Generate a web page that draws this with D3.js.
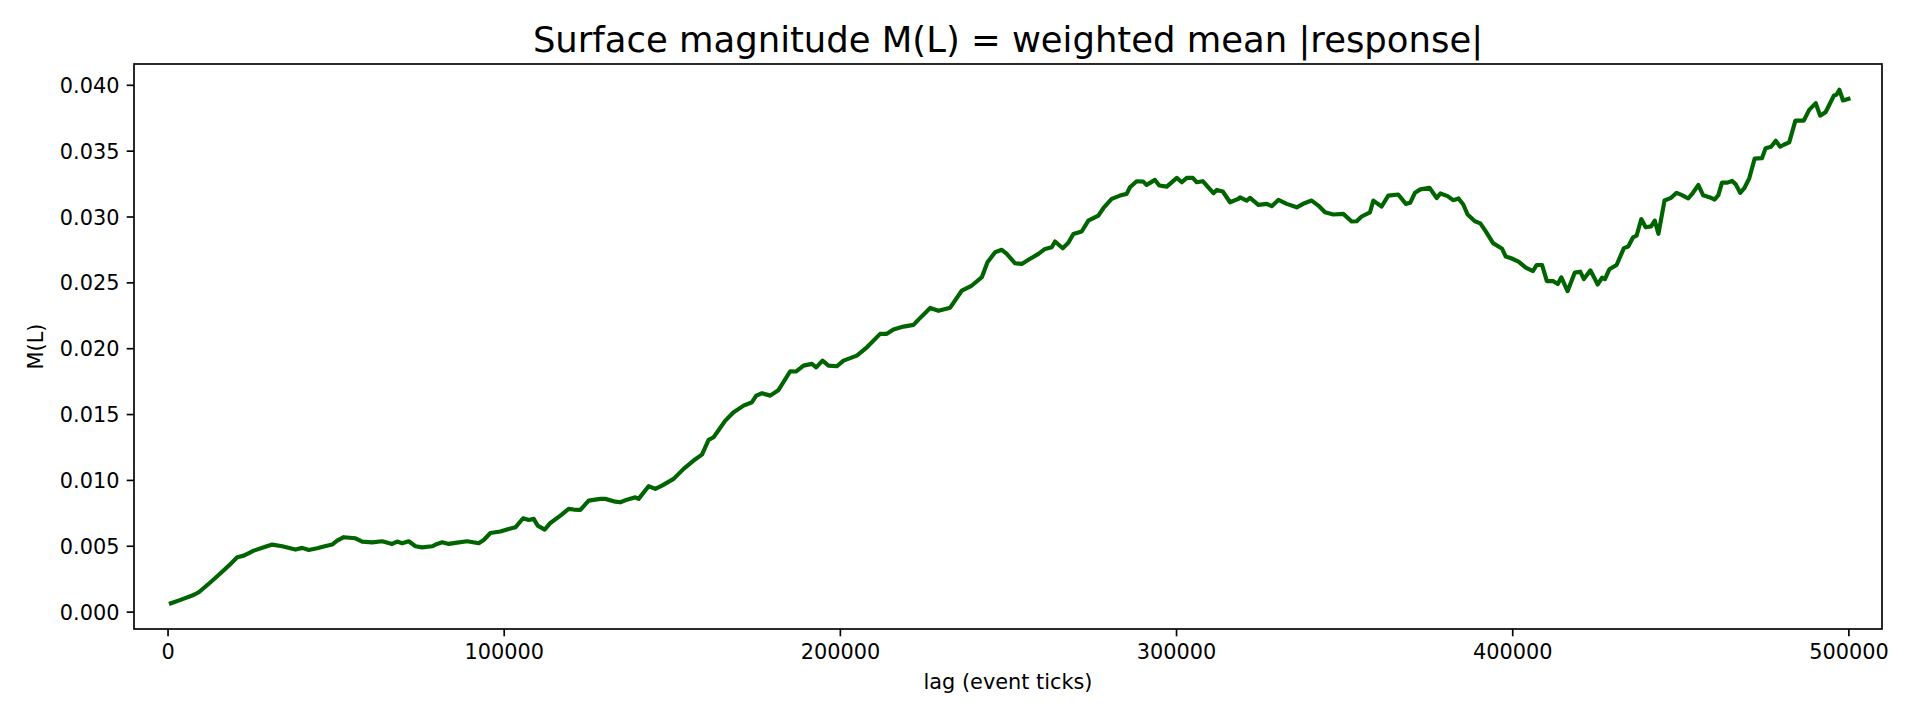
<!DOCTYPE html>
<html>
<head>
<meta charset="utf-8">
<script src="https://cdn.jsdelivr.net/npm/d3@7"></script>
<style>
  html, body { margin: 0; padding: 0; background: #ffffff; }
  svg { display: block; font-family: "DejaVu Sans", sans-serif; }
</style>
</head>
<body>
<svg id="chart" width="1920" height="720"></svg>
<script>
const chartTitle = "Surface magnitude M(L) = weighted mean |response|";
const xLabel = "lag (event ticks)";
const yLabel = "M(L)";
const xTicks = [0, 100000, 200000, 300000, 400000, 500000];
const yTicks = [0.000, 0.005, 0.010, 0.015, 0.020, 0.025, 0.030, 0.035, 0.040];

const lag = [
  1000, 3865, 7340, 9300, 12780, 15760, 18730, 20720, 22700, 25660,
  28640, 31130, 34100, 38060, 40050, 42000, 44500, 46470, 48970, 50450,
  52420, 55900, 57890, 60860, 63830, 66800, 68290, 69780, 71750, 73740,
  75720, 78700, 80180, 81670, 83650, 86140, 89120, 92570, 94050, 96040,
  99010, 101480, 103470, 105760, 107440, 108920, 110110, 112190, 113880, 116850,
  119330, 120800, 122790, 125270, 128740, 130230, 133200, 134690, 136670, 139150,
  140130, 143100, 145090, 147070, 150540, 153510, 156480, 158970, 160950, 162440,
  165910, 168390, 171360, 173840, 175120, 176820, 179300, 181770, 185230, 186920,
  189190, 191670, 192950, 194830, 196620, 199110, 201080, 205050, 208030, 211990,
  213970, 215950, 218920, 221890, 223380, 226860, 229340, 232810, 236290, 239260,
  242230, 243900, 246180, 248160, 249650, 252120, 254110, 256090, 259060, 261040,
  263030, 264010, 266300, 267960, 269450, 271930, 273910, 276880, 278370, 280850,
  283330, 285310, 286290, 288280, 290260, 291250, 293730, 295010, 297250, 300220,
  301710, 303190, 304970, 306160, 307950, 311120, 312110, 313900, 316060, 318540,
  319040, 321020, 322010, 324490, 326970, 328460, 330440, 332920, 335890, 338370,
  340350, 342330, 344310, 346790, 349760, 352240, 353720, 355210, 357690, 358680,
  361150, 363130, 366100, 368360, 369650, 371060, 372680, 375380, 377550, 378630,
  380790, 382410, 384030, 385440, 386730, 388900, 390520, 392140, 394300, 395920,
  397000, 398080, 399700, 401870, 404030, 406190, 407270, 408890, 410300, 412140,
  413540, 414620, 416460, 418620, 420240, 421320, 423270, 425430, 426730, 427590,
  428890, 431050, 433220, 434510, 435920, 437000, 438400, 439700, 441320, 442400,
  443490, 445320, 447270, 448890, 450510, 452350, 453760, 455380, 456780, 458620,
  460240, 461320, 462400, 464020, 465430, 466510, 467810, 469110, 470510, 472130,
  474290, 475380, 477000, 478400, 479700, 480780, 482400, 484240, 486730, 488350,
  490290, 491590, 493210, 495700, 496460, 497320, 498400, 500020
];

const magnitude = [
  0.00063, 0.00089, 0.00122, 0.00147, 0.00223, 0.00291, 0.00362, 0.00413, 0.00425, 0.00463,
  0.00488, 0.00509, 0.00496, 0.00471, 0.00484, 0.00468, 0.00481, 0.00494, 0.00509, 0.00539,
  0.00565, 0.00557, 0.00532, 0.00526, 0.00534, 0.00514, 0.00532, 0.00519, 0.00534, 0.00496,
  0.00488, 0.00496, 0.00514, 0.00526, 0.00514, 0.00524, 0.00534, 0.00519, 0.00544, 0.00597,
  0.00608, 0.00628, 0.00640, 0.00709, 0.00696, 0.00704, 0.00653, 0.00623, 0.00673, 0.00729,
  0.00780, 0.00775, 0.00772, 0.00843, 0.00856, 0.00856, 0.00835, 0.00830, 0.00850, 0.00868,
  0.00856, 0.00952, 0.00932, 0.00957, 0.01008, 0.01084, 0.01147, 0.01192, 0.01304, 0.01324,
  0.01450, 0.01514, 0.01564, 0.01590, 0.01640, 0.01658, 0.01640, 0.01683, 0.01825, 0.01823,
  0.01868, 0.01881, 0.01855, 0.01906, 0.01868, 0.01863, 0.01906, 0.01944, 0.02007, 0.02109,
  0.02109, 0.02142, 0.02164, 0.02177, 0.02217, 0.02306, 0.02284, 0.02308, 0.02438, 0.02476,
  0.02539, 0.02653, 0.02729, 0.02747, 0.02716, 0.02645, 0.02640, 0.02671, 0.02716, 0.02754,
  0.02767, 0.02810, 0.02759, 0.02800, 0.02868, 0.02886, 0.02969, 0.03007, 0.03063, 0.03134,
  0.03159, 0.03172, 0.03222, 0.03268, 0.03265, 0.03240, 0.03278, 0.03235, 0.03227, 0.03293,
  0.03260, 0.03293, 0.03293, 0.03260, 0.03268, 0.03177, 0.03202, 0.03190, 0.03108, 0.03134,
  0.03146, 0.03121, 0.03142, 0.03088, 0.03096, 0.03078, 0.03126, 0.03096, 0.03070, 0.03103,
  0.03121, 0.03083, 0.03032, 0.03015, 0.03020, 0.02962, 0.02964, 0.03000, 0.03032, 0.03121,
  0.03076, 0.03159, 0.03167, 0.03096, 0.03104, 0.03180, 0.03206, 0.03218, 0.03140, 0.03175,
  0.03155, 0.03124, 0.03137, 0.03091, 0.03015, 0.02964, 0.02948, 0.02887, 0.02798, 0.02772,
  0.02755, 0.02696, 0.02683, 0.02658, 0.02612, 0.02586, 0.02632, 0.02632, 0.02510, 0.02510,
  0.02487, 0.02538, 0.02433, 0.02574, 0.02581, 0.02525, 0.02591, 0.02484, 0.02535, 0.02525,
  0.02599, 0.02632, 0.02760, 0.02772, 0.02841, 0.02854, 0.02981, 0.02918, 0.02925, 0.02969,
  0.02869, 0.03122, 0.03142, 0.03180, 0.03162, 0.03137, 0.03180, 0.03239, 0.03162, 0.03147,
  0.03129, 0.03162, 0.03257, 0.03257, 0.03270, 0.03244, 0.03180, 0.03218, 0.03290, 0.03440,
  0.03443, 0.03519, 0.03530, 0.03575, 0.03530, 0.03545, 0.03563, 0.03728, 0.03728, 0.03810,
  0.03861, 0.03766, 0.03792, 0.03919, 0.03925, 0.03963, 0.03881, 0.03894
];

const svg = d3.select("#chart");
const plot = { left: 134, right: 1882, top: 64, bottom: 629 };
const ptToPx = 150 / 72;

// matplotlib-like autoscale with margins
const xMin = d3.min(lag), xMax = d3.max(lag);
const yMin = d3.min(magnitude), yMax = d3.max(magnitude);
const xPad = (xMax - xMin) * 0.02;
const yPad = (yMax - yMin) * 0.05;

const x = d3.scaleLinear().domain([xMin - xPad - 1000, xMax + xPad]).range([plot.left, plot.right]);
const y = d3.scaleLinear().domain([yMin - yPad, yMax + yPad]).range([plot.bottom, plot.top]);

const tickLen = 3.5 * ptToPx;
const tickPad = 3.5 * ptToPx;
const fontTick = 10 * ptToPx;

// line
const data = lag.map((d, i) => [d, magnitude[i]]);
svg.append("path")
  .datum(data)
  .attr("fill", "none")
  .attr("stroke", "#006400")
  .attr("stroke-width", 2 * ptToPx)
  .attr("stroke-linejoin", "round")
  .attr("stroke-linecap", "square")
  .attr("d", d3.line().x(d => x(d[0])).y(d => y(d[1])));

// x axis
const xAxis = d3.axisBottom(x).tickValues(xTicks).tickFormat(d3.format("d"))
  .tickSizeInner(tickLen).tickSizeOuter(0).tickPadding(tickPad);
const gx = svg.append("g").attr("transform", `translate(0,${plot.bottom})`).call(xAxis);
gx.select(".domain").remove();
gx.selectAll(".tick line").attr("stroke", "#000").attr("stroke-width", 0.8 * ptToPx);
gx.selectAll(".tick text").attr("font-family", "DejaVu Sans").attr("font-size", fontTick)
  .attr("fill", "#000").attr("y", 30).attr("dy", 0);

// y axis
const yAxis = d3.axisLeft(y).tickValues(yTicks).tickFormat(d3.format(".3f"))
  .tickSizeInner(tickLen).tickSizeOuter(0).tickPadding(tickPad);
const gy = svg.append("g").attr("transform", `translate(${plot.left},0)`).call(yAxis);
gy.select(".domain").remove();
gy.selectAll(".tick line").attr("stroke", "#000").attr("stroke-width", 0.8 * ptToPx);
gy.selectAll(".tick text").attr("font-family", "DejaVu Sans").attr("font-size", fontTick)
  .attr("fill", "#000").attr("dy", "0.36em");

// spines
svg.append("rect")
  .attr("x", plot.left).attr("y", plot.top)
  .attr("width", plot.right - plot.left).attr("height", plot.bottom - plot.top)
  .attr("fill", "none").attr("stroke", "#000").attr("stroke-width", 0.8 * ptToPx);

// title
svg.append("text")
  .attr("x", (plot.left + plot.right) / 2).attr("y", 51.5)
  .attr("text-anchor", "middle")
  .attr("font-size", 17 * ptToPx)
  .attr("fill", "#000")
  .text(chartTitle);

// x label
svg.append("text")
  .attr("x", (plot.left + plot.right) / 2).attr("y", 689)
  .attr("text-anchor", "middle")
  .attr("font-size", fontTick)
  .attr("fill", "#000")
  .text(xLabel);

// y label
svg.append("text")
  .attr("transform", `translate(43,${(plot.top + plot.bottom) / 2}) rotate(-90)`)
  .attr("text-anchor", "middle")
  .attr("font-size", fontTick)
  .attr("fill", "#000")
  .text(yLabel);
</script>
</body>
</html>
